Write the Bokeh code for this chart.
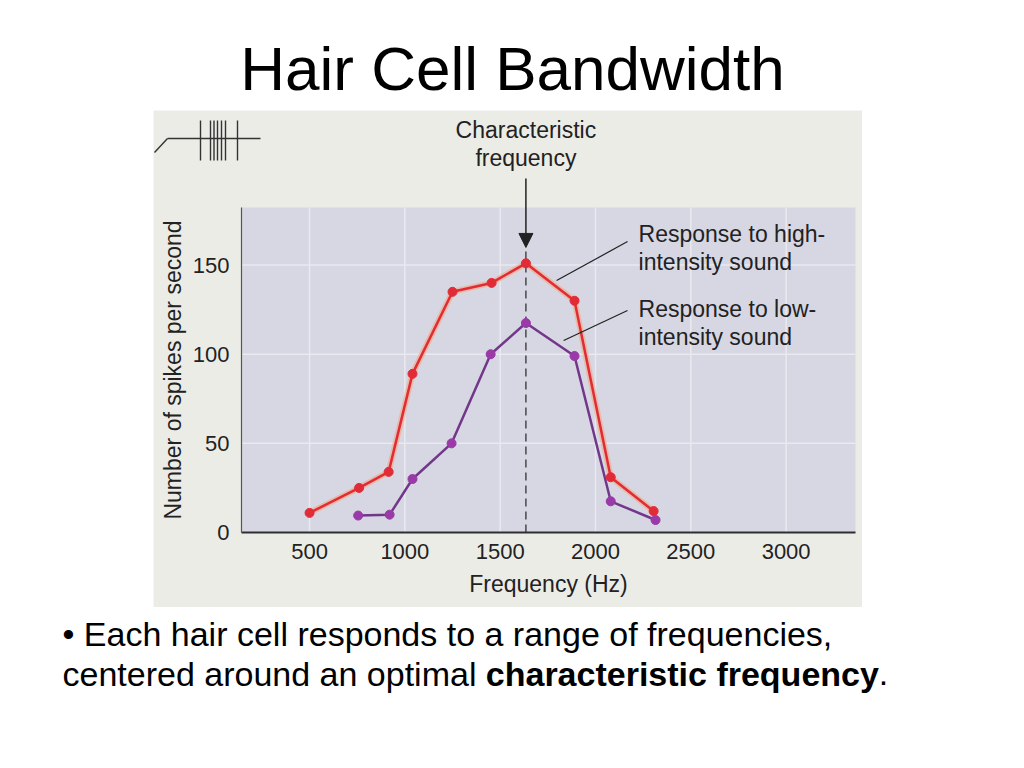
from bokeh.plotting import figure
from bokeh.models import Range1d, FixedTicker, Label, Arrow, NormalHead, Spacer, LinearAxis
from bokeh.layouts import column, row
from bokeh.embed import file_html
from bokeh.resources import INLINE

FONT = "Liberation Sans"

# ---------------- data ----------------
title_text = "Hair Cell Bandwidth"
x_ticks = [500, 1000, 1500, 2000, 2500, 3000]
y_ticks = [0, 50, 100, 150]
y_grid = [50, 100, 150]

high_freq = [500, 760, 915, 1040, 1250, 1455, 1635, 1890, 2080, 2305]
high_spikes = [11, 25, 34, 89, 135, 140, 151, 130, 31, 12]

low_freq = [755, 920, 1040, 1245, 1450, 1635, 1890, 2080, 2315]
low_spikes = [9.5, 10, 30, 50, 100, 117.5, 99, 17.5, 7]

char_freq = 1635

bullet_line1 = "\u2022 Each hair cell responds to a range of frequencies,"
bullet_line2a = "centered around an optimal "
bullet_line2b = "characteristic frequency"
bullet_line2c = "."

# ---------------- colours ----------------
PLOT_BG = "#d6d7e3"
SCAN_BG = "#ecece7"
GRID = "#e9e9f0"
RED = "#e12b36"
RED_HALO = "#f3a77e"
PURPLE_LINE = "#73378a"
PURPLE_DOT = "#9a39a8"
INK = "#222222"

# ---------------- geometry of the scanned figure ----------------
FIG_W, FIG_H = 709, 497          # scanned-figure panel
X_MIN, X_MAX = 143, 3364         # extent of the graph area (Hz)
Y_MIN, Y_MAX = 0, 182.3          # extent of the graph area (spikes/s)
VIEW_X = (-318.6, 3400.7)        # full panel in data units
VIEW_Y = (-42.07, 236.71)

def px2x(px):
    return VIEW_X[0] + (VIEW_X[1] - VIEW_X[0]) * px / FIG_W

def py2y(py):
    return VIEW_Y[1] - (VIEW_Y[1] - VIEW_Y[0]) * py / FIG_H

# ---------------- title ----------------
tf = figure(width=1024, height=110, x_range=Range1d(0, 1), y_range=Range1d(0, 1),
            toolbar_location=None, output_backend="svg",
            x_axis_location=None, y_axis_location=None,
            min_border=0, outline_line_color=None)
tf.grid.visible = False
tf.add_layout(Label(x=512, y=42, x_units="screen", y_units="screen", text=title_text,
                    text_font=FONT, text_font_size="62px", text_align="center",
                    text_baseline="alphabetic", text_color="black"))

# ---------------- chart ----------------
p = figure(width=FIG_W, height=FIG_H,
           x_range=Range1d(*VIEW_X), y_range=Range1d(*VIEW_Y),
           toolbar_location=None, output_backend="svg",
           x_axis_location=None, y_axis_location=None,
           min_border=0, background_fill_color=SCAN_BG, border_fill_color=SCAN_BG,
           outline_line_color=None)
p.grid.visible = False

# graph area
p.quad(left=[X_MIN], right=[X_MAX], bottom=[Y_MIN], top=[Y_MAX],
       fill_color=PLOT_BG, line_color=None)

# grid lines at the tick values
p.segment(x0=x_ticks, y0=[Y_MIN] * len(x_ticks), x1=x_ticks, y1=[Y_MAX] * len(x_ticks),
          line_color=GRID, line_width=1.5)
p.segment(x0=[X_MIN] * len(y_grid), y0=y_grid, x1=[X_MAX] * len(y_grid), y1=y_grid,
          line_color=GRID, line_width=1.5)

xaxis = LinearAxis(fixed_location=0, ticker=FixedTicker(ticks=x_ticks), bounds=(X_MIN, X_MAX))
yaxis = LinearAxis(fixed_location=X_MIN, ticker=FixedTicker(ticks=y_ticks), bounds=(Y_MIN, Y_MAX))
for ax in (xaxis, yaxis):
    ax.major_tick_line_color = None
    ax.minor_tick_line_color = None
    ax.major_label_text_font = FONT
    ax.major_label_text_font_size = "22px"
    ax.major_label_text_color = INK
    ax.axis_label_text_font = FONT
    ax.axis_label_text_font_size = "23px"
    ax.axis_label_text_font_style = "normal"
    ax.axis_label_text_color = INK
xaxis.axis_line_color = "#2e2e2e"
xaxis.axis_line_width = 2
yaxis.axis_line_color = "#555555"
yaxis.axis_line_width = 1.2
xaxis.major_label_standoff = 6
yaxis.major_label_standoff = 6
xaxis.axis_label = "Frequency (Hz)"
yaxis.axis_label = "Number of spikes per second"
xaxis.axis_label_standoff = 8
yaxis.axis_label_standoff = 4
p.add_layout(xaxis, "below")
p.add_layout(yaxis, "left")

# characteristic frequency dashed line
p.segment(x0=[char_freq], y0=[0], x1=[char_freq], y1=[159.9],
          line_color="#333333", line_width=1.3, line_dash="8 5")

# low-intensity response
p.line(low_freq, low_spikes, line_color=PURPLE_LINE, line_width=2.5)
p.scatter(low_freq, low_spikes, size=9, fill_color=PURPLE_DOT, line_color=PURPLE_DOT)

# high-intensity response
p.line(high_freq, high_spikes, line_color=RED_HALO, line_width=6, line_alpha=0.6)
p.line(high_freq, high_spikes, line_color=RED, line_width=2.5)
p.scatter(high_freq, high_spikes, size=9, fill_color=RED, line_color=RED)

# arrow pointing at the characteristic frequency
p.add_layout(Arrow(end=NormalHead(size=14, fill_color=INK, line_color=INK),
                   x_start=char_freq, y_start=198.5, x_end=char_freq, y_end=159.9,
                   line_color=INK, line_width=1.5))
lab = dict(text_font=FONT, text_font_size="23px", text_baseline="alphabetic", text_color=INK)
p.add_layout(Label(x=char_freq, y=225.5, text="Characteristic", text_align="center", **lab))
p.add_layout(Label(x=char_freq, y=209.8, text="frequency", text_align="center", **lab))

# leader lines to the curve labels
p.segment(x0=[1796, 1833], y0=[141.3, 107.7], x1=[2168, 2168], y1=[163.2, 124.5],
          line_color=INK, line_width=1.2)
for txt, yy in (("Response to high-", 167.2), ("intensity sound", 152.0),
                ("Response to low-", 125.6), ("intensity sound", 109.9)):
    p.add_layout(Label(x=2226, y=yy, text=txt, text_align="left", **lab))

# spike-train icon in the top-left corner of the scanned figure (panel pixels)
icon = [(1, 42, 14, 28), (14, 28, 107, 28)]
for sx in (47, 57, 60.5, 64, 68, 72, 84):
    icon.append((sx, 10, sx, 50))
p.segment(x0=[px2x(a) for a, b, c, d in icon], y0=[py2y(b) for a, b, c, d in icon],
          x1=[px2x(c) for a, b, c, d in icon], y1=[py2y(d) for a, b, c, d in icon],
          line_color="#333333", line_width=1.4)

# ---------------- bullet text ----------------
bf = figure(width=1024, height=161, x_range=Range1d(0, 1), y_range=Range1d(0, 1),
            toolbar_location=None, output_backend="svg",
            x_axis_location=None, y_axis_location=None,
            min_border=0, outline_line_color=None)
bf.grid.visible = False
common = dict(x_units="screen", y_units="screen", text_font=FONT, text_font_size="34px",
              text_align="left", text_baseline="alphabetic", text_color="black")
bf.add_layout(Label(x=62, y=135, text=bullet_line1, **common))
bf.add_layout(Label(x=62, y=95, text=bullet_line2a, **common))
bf.add_layout(Label(x=485.3, y=95, text=bullet_line2b, text_font_style="bold", **common))
bf.add_layout(Label(x=878.3, y=95, text=bullet_line2c, **common))

layout = column(tf, row(Spacer(width=153, height=FIG_H), p), bf)

open("out.html", "w").write(file_html(layout, INLINE, title="Hair Cell Bandwidth"))
